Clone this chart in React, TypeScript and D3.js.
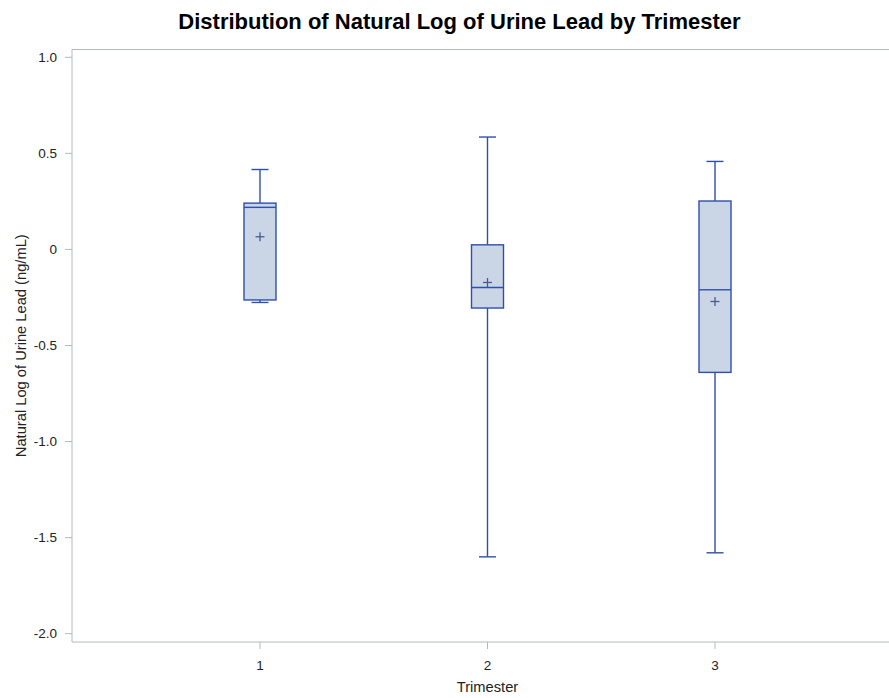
import React from "react";
import * as d3 from "d3";

const categories = ["1", "2", "3"];
const whiskerLow = [-0.276, -1.600, -1.579];
const q1 = [-0.263, -0.305, -0.640];
const median = [0.219, -0.198, -0.210];
const q3 = [0.241, 0.024, 0.252];
const whiskerHigh = [0.416, 0.585, 0.458];
const means = [0.066, -0.172, -0.271];
const yTicks = [1.0, 0.5, 0, -0.5, -1.0, -1.5, -2.0];
const yTickLabels = ["1.0", "0.5", "0", "-0.5", "-1.0", "-1.5", "-2.0"];

const W = 889;
const H = 698;
const left = 72;
const right = 889;
const top = 49.5;
const bottom = 642;

export default function App() {
  const y = d3.scaleLinear().domain([1.0, -2.0]).range([57.3, 633.7]);
  const x = d3.scalePoint<string>().domain(categories).range([260, 715]);
  const boxW = 32;
  const capW = 17;
  const stroke = "#2E50AA";
  const fill = "#CAD5E5";
  const axisColor = "#B4B9BD";
  const font = "Arial, 'Liberation Sans', sans-serif";

  return (
    <svg width={W} height={H} style={{ position: "absolute", left: 0, top: 0 }}>
      <rect x={0} y={0} width={W} height={H} fill="#fff" />
      <text x={459.5} y={29} textAnchor="middle" fontFamily={font} fontWeight="bold" fontSize={22} fill="#000">
        Distribution of Natural Log of Urine Lead by Trimester
      </text>
      {/* frame */}
      <line x1={left} x2={right} y1={top} y2={top} stroke={axisColor} strokeWidth={1} />
      <line x1={left} x2={right} y1={bottom} y2={bottom} stroke={axisColor} strokeWidth={1} />
      <line x1={left} x2={left} y1={top} y2={bottom} stroke={axisColor} strokeWidth={1} />
      {/* y ticks */}
      {yTicks.map((t, i) => (
        <g key={i}>
          <line x1={left - 7} x2={left} y1={y(t)} y2={y(t)} stroke={axisColor} />
          <text x={left - 15} y={y(t)} dy="0.35em" textAnchor="end" fontFamily={font} fontSize={13.5} fill="#222">
            {yTickLabels[i]}
          </text>
        </g>
      ))}
      <text
        transform={`translate(26,${(top + bottom) / 2}) rotate(-90)`}
        textAnchor="middle"
        fontFamily={font}
        fontSize={14.7}
        fill="#222"
      >
        Natural Log of Urine Lead (ng/mL)
      </text>
      {/* x ticks */}
      {categories.map((c) => (
        <g key={c}>
          <line x1={x(c)} x2={x(c)} y1={bottom} y2={bottom + 7} stroke={axisColor} />
          <text x={x(c)} y={bottom + 28} textAnchor="middle" fontFamily={font} fontSize={13.5} fill="#222">
            {c}
          </text>
        </g>
      ))}
      <text x={(x("2") as number)} y={692} textAnchor="middle" fontFamily={font} fontSize={14.7} fill="#222">
        Trimester
      </text>
      {/* boxes */}
      {categories.map((c, i) => {
        const cx = x(c) as number;
        return (
          <g key={c} stroke={stroke} strokeWidth={1.4}>
            <line x1={cx} x2={cx} y1={y(whiskerHigh[i])} y2={y(q3[i])} />
            <line x1={cx} x2={cx} y1={y(q1[i])} y2={y(whiskerLow[i])} />
            <line x1={cx - capW / 2} x2={cx + capW / 2} y1={y(whiskerHigh[i])} y2={y(whiskerHigh[i])} />
            <line x1={cx - capW / 2} x2={cx + capW / 2} y1={y(whiskerLow[i])} y2={y(whiskerLow[i])} />
            <rect x={cx - boxW / 2} y={y(q3[i])} width={boxW} height={y(q1[i]) - y(q3[i])} fill={fill} />
            <line x1={cx - boxW / 2} x2={cx + boxW / 2} y1={y(median[i])} y2={y(median[i])} />
            <g stroke="#4A5A98" strokeWidth={1.3}>
              <line x1={cx - 4.5} x2={cx + 4.5} y1={y(means[i])} y2={y(means[i])} />
              <line x1={cx} x2={cx} y1={y(means[i]) - 4.5} y2={y(means[i]) + 4.5} />
            </g>
          </g>
        );
      })}
    </svg>
  );
}
